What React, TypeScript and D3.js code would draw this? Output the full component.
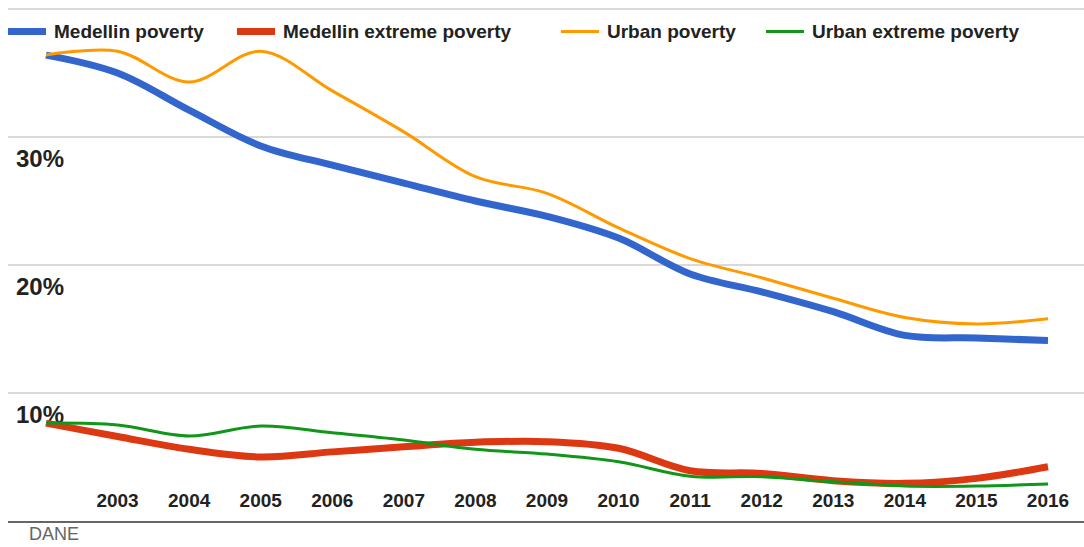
import React from "react";
import * as d3 from "d3";

const years = [2002, 2003, 2004, 2005, 2006, 2007, 2008, 2009, 2010, 2011, 2012, 2013, 2014, 2015, 2016];
const yearLabels = ["2003", "2004", "2005", "2006", "2007", "2008", "2009", "2010", "2011", "2012", "2013", "2014", "2015", "2016"];
const medellinPoverty = [36.4, 35.0, 32.1, 29.3, 27.8, 26.4, 25.0, 23.8, 22.1, 19.3, 17.9, 16.35, 14.5, 14.3, 14.1];
const medellinExtreme = [7.65, 6.6, 5.6, 5.0, 5.4, 5.8, 6.15, 6.2, 5.68, 3.93, 3.72, 3.15, 2.94, 3.33, 4.24];
const urbanPoverty = [36.4, 36.7, 34.3, 36.7, 33.6, 30.4, 26.9, 25.6, 22.9, 20.5, 19.0, 17.4, 15.9, 15.4, 15.8];
const urbanExtreme = [7.65, 7.5, 6.64, 7.42, 6.9, 6.33, 5.6, 5.23, 4.63, 3.5, 3.46, 3.07, 2.73, 2.73, 2.9];
const yTicks = [10, 20, 30, 40];
const yTickLabels = ["10%", "20%", "30%", ""];

const seriesNames = ["Medellin poverty", "Medellin extreme poverty", "Urban poverty", "Urban extreme poverty"];
const seriesColors = ["#3366cc", "#dc3912", "#ff9900", "#109618"];
const seriesWidths = [7, 7, 3, 3];
const seriesValues = [medellinPoverty, medellinExtreme, urbanPoverty, urbanExtreme];
const legendX = [8, 237, 561, 766];

const W = 1084;
const H = 547;
const FONT = "Arial, 'Liberation Sans', sans-serif";

export default function App() {
  const x = d3.scaleLinear().domain([2002, 2016]).range([46, 1048]);
  const y = d3.scaleLinear().domain([0, 40]).range([521, 9]);
  const line = d3
    .line<number>()
    .x((_, i) => x(years[i]))
    .y((d) => y(d))
    .curve(d3.curveCatmullRom.alpha(0.5));

  // draw order: urban lines under medellin? keep reference order
  const order = [0, 2, 1, 3];

  return (
    <svg width={W} height={H} style={{ position: "absolute", left: 0, top: 0, background: "#fff" }}>
      {yTicks.map((t) => (
        <line key={t} x1={8} x2={W} y1={y(t)} y2={y(t)} stroke="#cccccc" strokeWidth={1.5} />
      ))}
      <line x1={8} x2={W} y1={522} y2={522} stroke="#333" strokeWidth={1.5} />
      {yTicks.map((t, i) => (
        <text key={"l" + t} x={16} y={y(t) + 29.5} fontFamily={FONT} fontWeight="bold" fontSize={24} fill="#222">
          {yTickLabels[i]}
        </text>
      ))}
      {order.map((si) => (
        <path
          key={si}
          d={line(seriesValues[si]) || ""}
          fill="none"
          stroke={seriesColors[si]}
          strokeWidth={seriesWidths[si]}
        />
      ))}
      {yearLabels.map((lab) => (
        <text key={lab} x={x(+lab)} y={507} textAnchor="middle" fontFamily={FONT} fontWeight="bold" fontSize={19} fill="#222">
          {lab}
        </text>
      ))}
      {seriesNames.map((n, i) => (
        <g key={n}>
          <line x1={legendX[i]} x2={legendX[i] + 38} y1={31.5} y2={31.5} stroke={seriesColors[i]} strokeWidth={seriesWidths[i]} />
          <text x={legendX[i] + 46} y={38} fontFamily={FONT} fontWeight="bold" fontSize={19} fill="#222">
            {n}
          </text>
        </g>
      ))}
      <text x={29} y={540} fontFamily={FONT} fontSize={18} fill="#666">
        DANE
      </text>
    </svg>
  );
}
